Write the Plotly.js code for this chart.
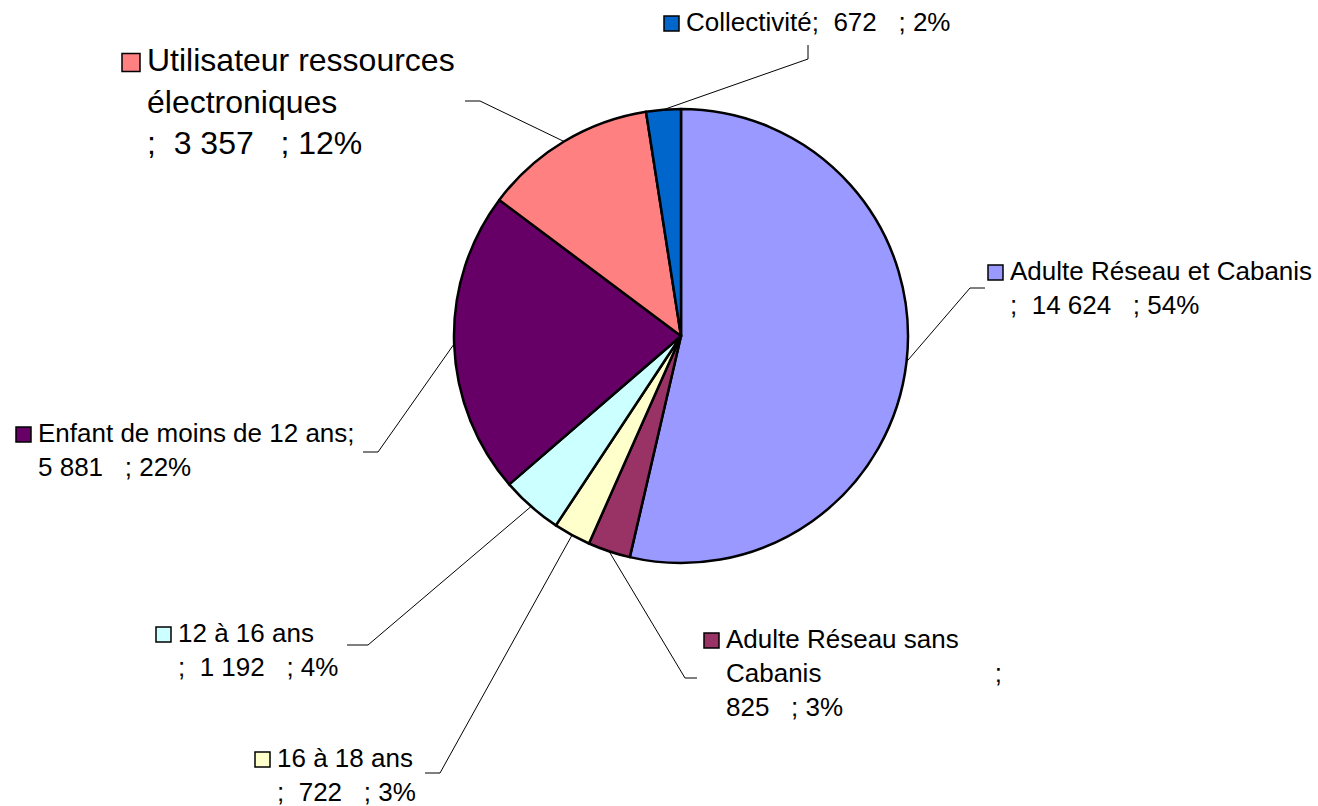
<!DOCTYPE html>
<html>
<head>
<meta charset="utf-8">
<script src="https://cdn.plot.ly/plotly-3.0.1.min.js"></script>
<style>html,body{margin:0;padding:0;background:#fff;}#chart{width:1318px;height:806px;}</style>
</head>
<body>
<div id="chart"></div>
<script>
// ---- data ----
const categories = ["Adulte Réseau et Cabanis", "Adulte Réseau sans Cabanis", "16 à 18 ans", "12 à 16 ans", "Enfant de moins de 12 ans", "Utilisateur ressources électroniques", "Collectivité"];
const values = [14624, 825, 722, 1192, 5881, 3357, 672];
const colors = ["#9999FF", "#993366", "#FFFFCC", "#CCFFFF", "#660066", "#FF8080", "#0066CC"];
// label name as displayed (with line breaks) and the joiner before the value
const labelNames = ["Adulte Réseau et Cabanis", "Adulte Réseau sans<br>Cabanis", "16 à 18 ans", "12 à 16 ans", "Enfant de moins de 12 ans", "Utilisateur ressources<br>électroniques", "Collectivité"];
const labelJoin = ["<br>;  ", "                        ;<br>", "<br>;  ", "<br>;  ", ";<br>", "<br>;  ", ";  "];

// ---- layout constants (pixels) ----
const W = 1318, H = 806;
const CX = 681, CY = 336, R = 227;
// label anchor (text left x, first-line center y), font size, square size
const labelPos = [
  [1010, 272, 26, 15], [726, 640, 26, 15], [277, 759, 26, 15], [178, 634, 26, 15],
  [38, 434, 26, 15], [147, 62, 32, 18], [686, 23, 26, 15]
];
// leader line elbow and end points
const leaderPts = [
  [[970, 288], [985, 288]],
  [[685, 678], [697, 678]],
  [[440, 773], [425, 773]],
  [[368, 645], [347, 645]],
  [[378, 452], [363, 452]],
  [[480, 101], [465, 101]],
  [[808, 59], [808, 45]]
];

const X = px => px / W;
const Y = py => 1 - py / H;
const nb = s => s.replace(/ /g, "\u00A0").replace(/\u00A0<br>/g, "<br>");
const fmt = v => String(v).replace(/\B(?=(\d{3})+(?!\d))/g, " ");
const total = values.reduce((a, b) => a + b, 0);

const trace = {
  type: "pie",
  labels: categories,
  values: values,
  sort: false,
  direction: "clockwise",
  rotation: 0,
  textinfo: "none",
  hoverinfo: "label+value+percent",
  marker: { colors: colors, line: { color: "#000000", width: 2.5 } },
  domain: { x: [X(CX - R), X(CX + R)], y: [Y(CY + R), Y(CY - R)] },
  showlegend: false
};

const shapes = [];
const annotations = [];
let cum = 0;
values.forEach((v, i) => {
  const mid = (cum + v / 2) / total * 2 * Math.PI;
  cum += v;
  const sx = CX + R * Math.sin(mid), sy = CY - R * Math.cos(mid);
  const [e, f] = leaderPts[i];
  shapes.push({
    type: "path", xref: "paper", yref: "paper",
    path: `M ${X(sx)} ${Y(sy)} L ${X(e[0])} ${Y(e[1])} L ${X(f[0])} ${Y(f[1])}`,
    line: { color: "#000000", width: 1 }, layer: "above"
  });
  const [tx, ty, fs, sq] = labelPos[i];
  // legend-like square
  shapes.push({
    type: "rect", xref: "paper", yref: "paper",
    x0: X(tx - 7 - sq), x1: X(tx - 7), y0: Y(ty - sq / 2 + 0.5), y1: Y(ty + sq / 2 + 0.5),
    fillcolor: colors[i], line: { color: "#000000", width: 1.5 }, layer: "above"
  });
  const pct = Math.round(v / total * 100);
  const txt = nb(labelNames[i] + labelJoin[i] + fmt(v) + "   ; " + pct + "%");
  annotations.push({
    xref: "paper", yref: "paper", x: X(tx - 2), y: Y(ty - fs * 0.68),
    xanchor: "left", yanchor: "top", align: "left", showarrow: false,
    text: txt, font: { family: "Liberation Sans, Arial, sans-serif", size: fs, color: "#000000" }
  });
});

const layout = {
  width: W, height: H,
  margin: { l: 0, r: 0, t: 0, b: 0 },
  paper_bgcolor: "#ffffff",
  plot_bgcolor: "#ffffff",
  showlegend: false,
  shapes: shapes,
  annotations: annotations
};

Plotly.newPlot("chart", [trace], layout, { displayModeBar: false, staticPlot: true });
</script>
</body>
</html>
